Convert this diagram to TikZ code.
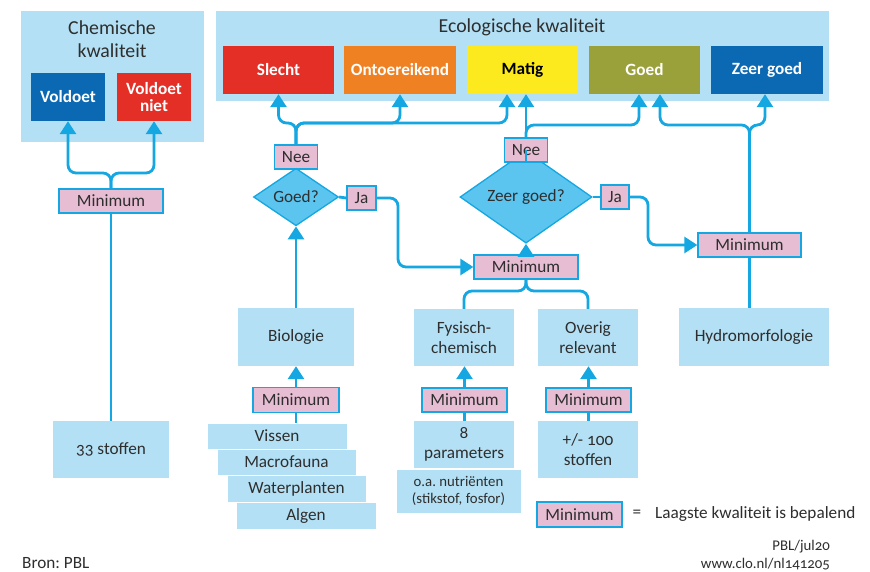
\documentclass[tikz,border=0pt]{standalone}
\usepackage{fontspec}
\setmainfont{Carlito}[Numbers=OldStyle]
\usetikzlibrary{arrows.meta,shapes.geometric}
\definecolor{lightbox}{HTML}{B3E0F4}
\definecolor{pinkbox}{HTML}{E6BDD3}
\definecolor{lineblue}{HTML}{14A7E1}
\definecolor{diafill}{HTML}{5BC5F0}
\definecolor{txt}{HTML}{2E2E2E}
\definecolor{cred}{HTML}{E42F27}
\definecolor{corange}{HTML}{F08122}
\definecolor{cyellow}{HTML}{FCEA1E}
\definecolor{colive}{HTML}{9AA03A}
\definecolor{cblue}{HTML}{0B69B3}
\newcommand{\fbody}{\fontsize{17.2}{19.5}\selectfont}
\newcommand{\ftitle}{\fontsize{19.8}{23.5}\selectfont}
\newcommand{\fsmall}{\fontsize{14.8}{17.5}\selectfont}
\frenchspacing
\begin{document}
\begin{tikzpicture}[x=1pt,y=-1pt,
  lb/.style={fill=lightbox, draw=none, inner sep=0pt, align=center, text=txt, font=\fbody},
  stack/.style={lb, draw=white, line width=0.8pt},
  status/.style={inner sep=0pt, align=center, font=\fbody\bfseries, text=white, minimum height=48pt},
  minbox/.style={fill=pinkbox, draw=lineblue, line width=1.3pt, inner sep=0pt, text=txt, font=\fbody, minimum height=24pt},
  dia/.style={diamond, fill=diafill, draw=lineblue, line width=1.3pt, inner sep=0pt, text=txt, font=\fbody},
  title/.style={inner sep=0pt, align=center, text=txt, font=\ftitle},
  conn/.style={draw=lineblue, line width=2.8pt, rounded corners=8pt},
  arr/.style={conn, -{Triangle[length=13pt,width=16pt]}},
  plain/.style={inner sep=0pt, text=txt}
]
\useasboundingbox (0,0) rectangle (870,571);
\fill[white] (0,0) rectangle (870,571);

% background panels
\node[lb, minimum width=183pt, minimum height=131pt] (chemBox) at (112.5,76.5) {};
\node[lb, minimum width=613pt, minimum height=90pt] (ecoBox) at (522.5,56) {};
\node[title] (chemTitle) at (112,39) {Chemische\\kwaliteit};
\node[title] (ecoTitle) at (522,27) {Ecologische kwaliteit};

% chemical status
\node[status, fill=cblue, minimum width=74pt] (voldoet) at (68,97) {Voldoet};
\node[status, fill=cred, minimum width=74pt] (voldoetniet) at (154,97) {Voldoet\\[-2pt]niet};

% ecological status
\node[status, fill=cred, minimum width=111pt] (slecht) at (278.5,70) {Slecht};
\node[status, fill=corange, minimum width=112pt] (ontoer) at (400,70) {Ontoereikend};
\node[status, fill=cyellow, text=black, minimum width=111pt] (matig) at (522.5,70) {Matig};
\node[status, fill=colive, minimum width=111pt] (goed) at (644.5,70) {Goed};
\node[status, fill=cblue, minimum width=112pt] (zg) at (767,70) {Zeer goed};

% decisions
\node[dia, minimum width=85pt, minimum height=49pt] (goedq) at (296,197) {Goed?};
\node[dia, minimum width=132pt, minimum height=63pt] (zgq) at (526,197) {Zeer goed?};
\node[minbox, minimum width=43pt] (nee1) at (296,157) {Nee};
\node[minbox, minimum width=43pt] (nee2) at (526,150) {Nee};
\node[minbox, minimum width=29pt] (ja1) at (361.5,198) {Ja};
\node[minbox, minimum width=28pt] (ja2) at (615,197) {Ja};

% minimum boxes
\node[minbox, minimum width=104pt] (minC) at (111,201) {Minimum};
\node[minbox, minimum width=104pt] (minMid) at (526,267) {Minimum};
\node[minbox, minimum width=103pt] (minR) at (749.5,245) {Minimum};
\node[minbox, minimum width=86pt, minimum height=25pt] (minBio) at (296,400) {Minimum};
\node[minbox, minimum width=85pt] (minFys) at (464.5,400) {Minimum};
\node[minbox, minimum width=85pt] (minOvr) at (588.5,400) {Minimum};

% components
\node[lb, minimum width=116pt, minimum height=58pt] (bio) at (296,337) {Biologie};
\node[lb, minimum width=100pt, minimum height=57pt] (fys) at (464,337.5) {Fysisch-\\chemisch};
\node[lb, minimum width=100pt, minimum height=57pt] (ovr) at (588,337.5) {Overig\\relevant};
\node[lb, minimum width=150pt, minimum height=58pt] (hydro) at (754,337) {Hydromorfologie};
\node[lb, minimum width=116pt, minimum height=57pt] (stof33) at (111,449.5) {33 stoffen};

% parameters
\node[stack, minimum width=140pt, minimum height=26pt] (vissen) at (277,436) {Vissen};
\node[stack, minimum width=139pt, minimum height=26pt] (macro) at (286.5,462) {Macrofauna};
\node[stack, minimum width=139pt, minimum height=27pt] (water) at (296.5,488.5) {Waterplanten};
\node[stack, minimum width=140pt, minimum height=27pt] (algen) at (306,515.5) {Algen};
\node[lb, minimum width=100pt, minimum height=47pt] (par8) at (464,444.5) {8\\parameters};
\node[stack, font=\fsmall, minimum width=125pt, minimum height=44pt] (nutr) at (458.5,491) {o.a. nutriënten\\(stikstof, fosfor)};
\node[lb, minimum width=100pt, minimum height=57pt] (stof100) at (588,449.5) {+/- 100\\stoffen};

% legend and footer
\node[minbox, minimum width=85pt, minimum height=25pt] (minLeg) at (579.5,514.5) {Minimum};
\node[plain, font=\fbody] (eq) at (637,514) {=};
\node[plain, font=\fbody, anchor=west] (legText) at (655,514) {Laagste kwaliteit is bepalend};
\node[plain, font=\fbody, anchor=west] (bron) at (22,563) {Bron: PBL};
\node[plain, font=\fsmall, anchor=east] (pbl) at (830,547) {PBL/jul20};
\node[plain, font=\fsmall, anchor=east] (clo) at (830,564) {www.clo.nl/nl141205};

% level coordinates
\coordinate (lvlC) at (0,173);
\coordinate (lvlE1) at (0,123);
\coordinate (lvlE2) at (0,125);
\coordinate (lvlM) at (0,291);
\coordinate (j1) at (398,0);
\coordinate (j2) at (648,0);

% chemical connectors
\draw[arr] (minC.north) -- (minC.north |- lvlC) -| (voldoet.south);
\draw[arr] (minC.north) -- (minC.north |- lvlC) -| (voldoetniet.south);
\draw[conn] (minC.south) -- (stof33.north);

% Goed? branch
\draw[arr] (bio.north) -- (goedq.south);
\draw[conn] (goedq.north) -- (nee1.south);
\draw[arr] (nee1.north) -- (nee1.north |- lvlE1) -| (slecht.south);
\draw[arr] (nee1.north) -- (nee1.north |- lvlE1) -| (ontoer.south);
\draw[arr] (nee1.north) -- (nee1.north |- lvlE1) -| ([xshift=-15.5pt]matig.south);
\draw[conn] (goedq.east) -- (ja1.west);
\draw[arr] (ja1.east) -| (j1 |- minMid.west) -- (minMid.west);

% Zeer goed? branch
\draw[arr] (minMid.north) -- (zgq.south);
\draw[conn] (zgq.north) -- (nee2.south);
\draw[arr] (nee2.north) -- (nee2.north |- matig.south);
\draw[arr] (nee2.north) -- (nee2.north |- lvlE2) -| ([xshift=-5.5pt]goed.south);
\draw[conn] (zgq.east) -- (ja2.west);
\draw[arr] (ja2.east) -| (j2 |- minR.west) -- (minR.west);

% right minimum
\draw[arr] (minR.north) -- (minR.north |- lvlE2) -| ([xshift=15.5pt]goed.south);
\draw[arr] (minR.north) -- (minR.north |- lvlE2) -| ([xshift=-2pt]zg.south);
\draw[conn] (hydro.north -| minR.south) -- (minR.south);

% middle minimum fork
\draw[conn] (minMid.south) -- (minMid.south |- lvlM) -| (fys.north);
\draw[conn] (minMid.south) -- (minMid.south |- lvlM) -| (ovr.north);

% lower minimum boxes
\draw[arr] (minBio.north) -- (bio.south);
\draw[conn] (minBio.south) -- (minBio.south |- vissen.north);
\draw[arr] (minFys.north) -- (minFys.north |- fys.south);
\draw[conn] (minFys.south) -- (minFys.south |- par8.north);
\draw[arr] (minOvr.north) -- (minOvr.north |- ovr.south);
\draw[conn] (minOvr.south) -- (minOvr.south |- stof100.north);
\end{tikzpicture}
\end{document}
